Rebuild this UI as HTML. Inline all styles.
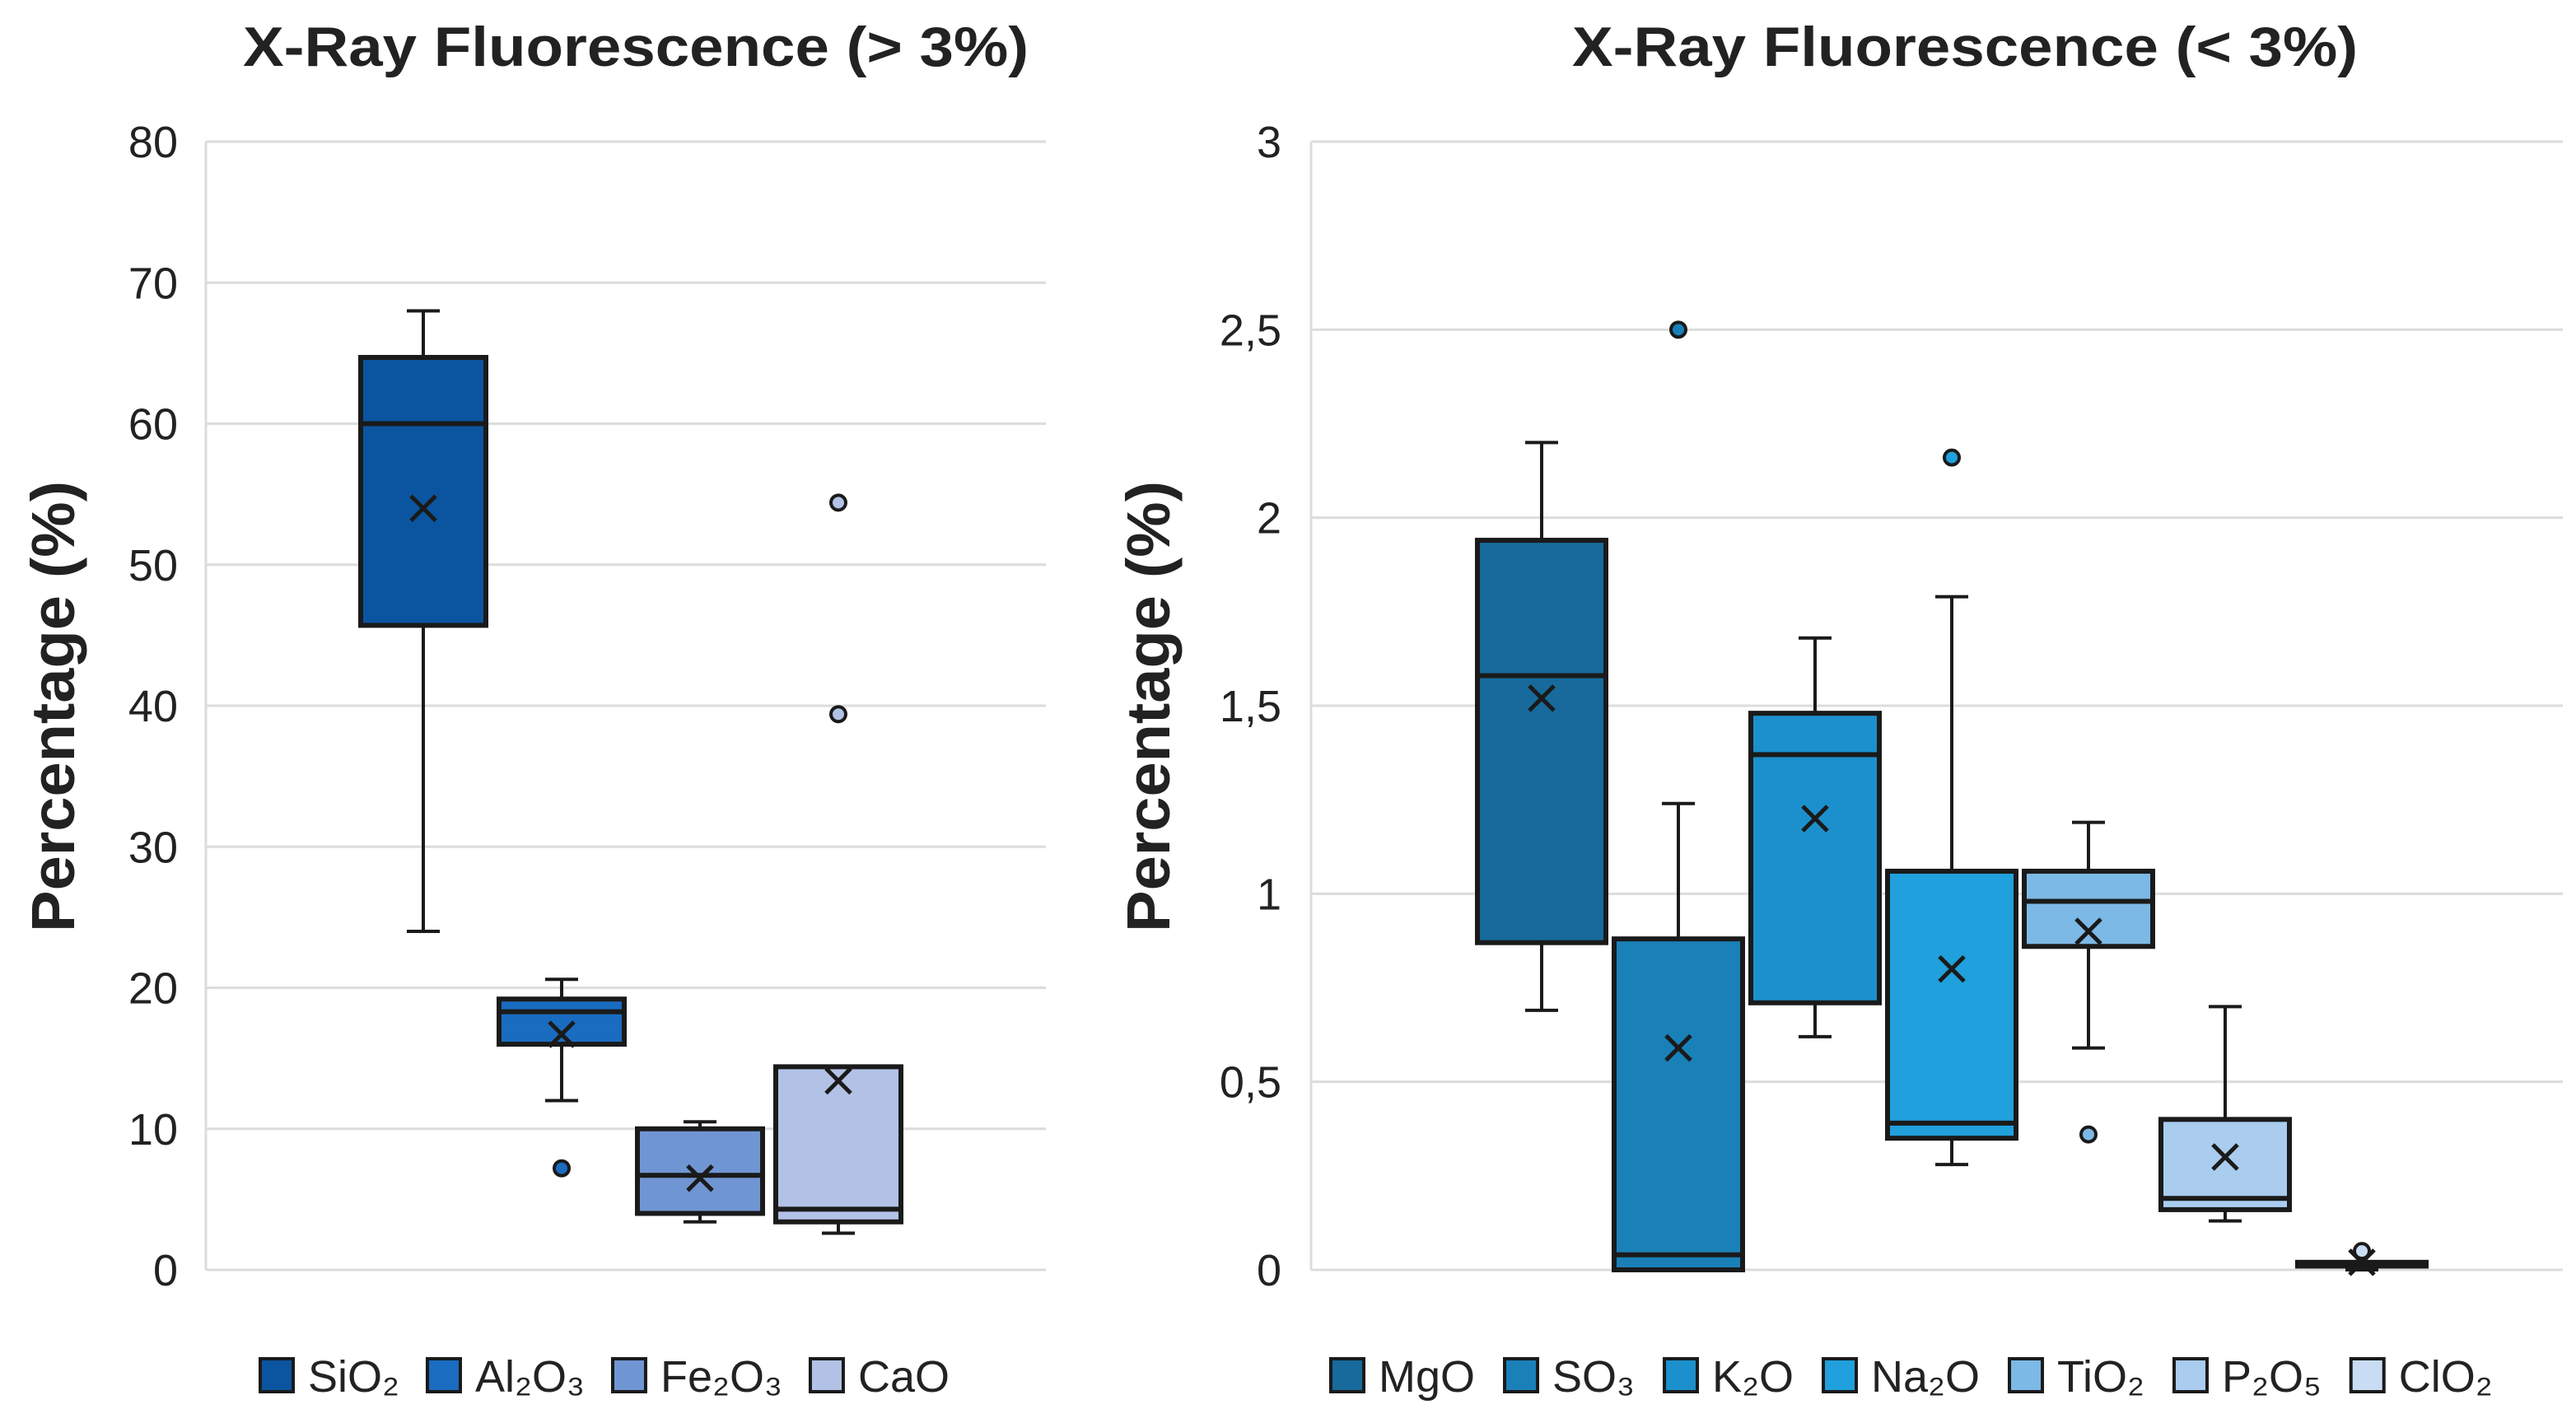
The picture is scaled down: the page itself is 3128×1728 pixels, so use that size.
<!DOCTYPE html>
<html><head><meta charset="utf-8"><style>
html,body{margin:0;padding:0;background:#fff}
svg{display:block}
text{font-family:"Liberation Sans","DejaVu Sans",sans-serif;fill:#222}
</style></head><body>
<svg id="chart" width="3128" height="1728" viewBox="0 0 3128 1728" xmlns="http://www.w3.org/2000/svg">
<text x="772" y="80" font-size="68" font-weight="bold" text-anchor="middle" textLength="954" lengthAdjust="spacingAndGlyphs">X-Ray Fluorescence (&gt; 3%)</text>
<text x="2386" y="80" font-size="68" font-weight="bold" text-anchor="middle" textLength="954" lengthAdjust="spacingAndGlyphs">X-Ray Fluorescence (&lt; 3%)</text>
<text transform="translate(90,858) rotate(-90)" font-size="74" font-weight="bold" text-anchor="middle" textLength="548" lengthAdjust="spacingAndGlyphs">Percentage (%)</text>
<text transform="translate(1420,858) rotate(-90)" font-size="74" font-weight="bold" text-anchor="middle" textLength="548" lengthAdjust="spacingAndGlyphs">Percentage (%)</text>
</svg>
<script>
// Left chart data
const leftCats = ["SiO₂","Al₂O₃","Fe₂O₃","CaO"];
const leftMin = [24, 12, 3.4, 2.6];
const leftQ1 = [45.7, 16, 4, 3.4];
const leftMed = [60, 18.3, 6.7, 4.3];
const leftQ3 = [64.7, 19.2, 10, 14.4];
const leftMax = [68, 20.6, 10.5, 14.4];
const leftMean = [54, 16.7, 6.5, 13.4];
const leftOutliers = [[], [7.2], [], [39.4, 54.4]];
const leftTicks = ["0","10","20","30","40","50","60","70","80"];
const leftTickVals = [0,10,20,30,40,50,60,70,80];
const leftColors = ["#0b55a0","#1a6cc0","#7095d3","#b2c2e6"];

// Right chart data
const rightCats = ["MgO","SO₃","K₂O","Na₂O","TiO₂","P₂O₅","ClO₂"];
const rightMin = [0.69, 0, 0.62, 0.28, 0.59, 0.13, 0];
const rightQ1 = [0.87, 0, 0.71, 0.35, 0.86, 0.16, 0.01];
const rightMed = [1.58, 0.04, 1.37, 0.39, 0.98, 0.19, 0.015];
const rightQ3 = [1.94, 0.88, 1.48, 1.06, 1.06, 0.4, 0.02];
const rightMax = [2.2, 1.24, 1.68, 1.79, 1.19, 0.7, 0.02];
const rightMean = [1.52, 0.59, 1.2, 0.8, 0.9, 0.3, 0.02];
const rightOutliers = [[], [2.5], [], [2.16], [0.36], [], [0.05]];
const rightTicks = ["0","0,5","1","1,5","2","2,5","3"];
const rightTickVals = [0,0.5,1,1.5,2,2.5,3];
const rightColors = ["#176a9b","#1a80b8","#1c90cc","#20a0dc","#7db9e6","#a9ccef","#c8ddf3"];

const svg = document.getElementById('chart');
const NS = "http://www.w3.org/2000/svg";
function mk(tag, attrs){const e=document.createElementNS(NS,tag);for(const k in attrs)e.setAttribute(k,attrs[k]);svg.appendChild(e);return e;}

function drawChart(cfg){
  const {key,x0,x1,yTop,yBot,vmax,cats,mins,q1,med,q3,maxs,means,outs,ticks,tickVals,colors,firstCenter,step,boxW,labelX,legendX,legendGap} = cfg;
  const y = v => yBot - (v / vmax) * (yBot - yTop);
  const xc = i => firstCenter + i * step;
  tickVals.forEach((tv,i)=>{
    const g = mk('line',{x1:x0,x2:x1,y1:y(tv),y2:y(tv),stroke:'#dcdcdc','stroke-width':3});
    
    
    const t = mk('text',{x:labelX,y:y(tv)+19,'font-size':54,'text-anchor':'end'});
    t.textContent = ticks[i];
    
    
  });
  const ax = mk('line',{x1:x0,x2:x0,y1:yTop,y2:yBot,stroke:'#dcdcdc','stroke-width':3});
  
  
  cats.forEach((c,i)=>{
    const cx = xc(i), half = boxW/2, cap = 20;
    const w1 = mk('line',{x1:cx,x2:cx,y1:y(maxs[i]),y2:y(q3[i]),stroke:'#1a1a1a','stroke-width':4});
    
    
    const w2 = mk('line',{x1:cx,x2:cx,y1:y(q1[i]),y2:y(mins[i]),stroke:'#1a1a1a','stroke-width':4});
    
    
    const c1 = mk('line',{x1:cx-cap,x2:cx+cap,y1:y(maxs[i]),y2:y(maxs[i]),stroke:'#1a1a1a','stroke-width':4});
    
    
    const c2 = mk('line',{x1:cx-cap,x2:cx+cap,y1:y(mins[i]),y2:y(mins[i]),stroke:'#1a1a1a','stroke-width':4});
    
    
    const top = y(q3[i]), bot = y(q1[i]);
    const b = mk('rect',{x:cx-half,y:top,width:boxW,height:Math.max(bot-top,4),fill:colors[i],stroke:'#1a1a1a','stroke-width':6});
    
    
    const m = mk('line',{x1:cx-half,x2:cx+half,y1:y(med[i]),y2:y(med[i]),stroke:'#1a1a1a','stroke-width':6});
    
    
    const my = y(means[i]), s = 15;
    const p = mk('path',{d:`M${cx-s},${my-s}L${cx+s},${my+s}M${cx-s},${my+s}L${cx+s},${my-s}`,stroke:'#1a1a1a','stroke-width':5,fill:'none'});
    
    
    outs[i].forEach(o=>{
      const d = mk('circle',{cx:cx,cy:y(o),r:9,fill:colors[i],stroke:'#1a1a1a','stroke-width':4});
      
      
    });
  });
  // legend
  let lx = legendX;
  cats.forEach((c,i)=>{
    const r = mk('rect',{x:lx,y:1650,width:40,height:40,fill:colors[i],stroke:'#1a1a1a','stroke-width':4});
    
    
    const t = mk('text',{x:lx+58,y:1690,'font-size':54});
    t.textContent = c;
    
    
    const tw = t.getComputedTextLength();
    lx += 58 + tw + legendGap;
  });
}

drawChart({key:'left',x0:250,x1:1270,yTop:172,yBot:1542,vmax:80,cats:leftCats,mins:leftMin,q1:leftQ1,med:leftMed,q3:leftQ3,maxs:leftMax,means:leftMean,outs:leftOutliers,ticks:leftTicks,tickVals:leftTickVals,colors:leftColors,firstCenter:514,step:168,boxW:152,labelX:216,legendX:316,legendGap:34});
drawChart({key:'right',x0:1592,x1:3112,yTop:172,yBot:1542,vmax:3,cats:rightCats,mins:rightMin,q1:rightQ1,med:rightMed,q3:rightQ3,maxs:rightMax,means:rightMean,outs:rightOutliers,ticks:rightTicks,tickVals:rightTickVals,colors:rightColors,firstCenter:1872,step:166,boxW:156,labelX:1556,legendX:1616,legendGap:36});
</script>
</body></html>
